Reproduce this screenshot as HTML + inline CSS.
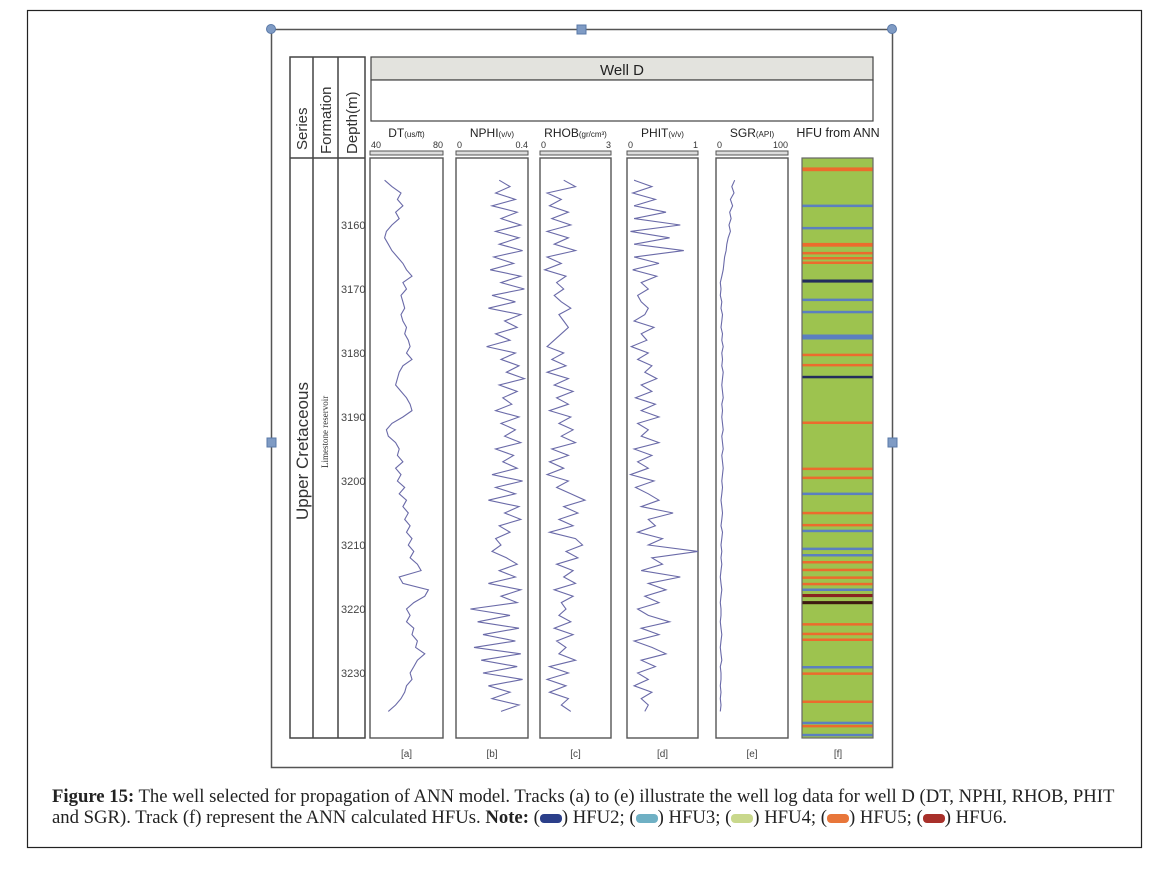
<!DOCTYPE html>
<html><head><meta charset="utf-8"><style>
body{margin:0;background:#fff;width:1174px;height:877px;overflow:hidden;}
svg{position:absolute;left:0;top:0}
.cap{position:absolute;left:52px;top:786px;width:1085px;font-family:"Liberation Serif",serif;font-size:18.7px;line-height:21px;color:#222;white-space:normal}
</style></head><body>
<svg id="fig" width="1174" height="877" font-family="Liberation Sans, sans-serif">
<rect x="27.5" y="10.5" width="1114" height="837" fill="none" stroke="#222" stroke-width="1.2"/>
<rect x="271.5" y="29.5" width="621" height="738" fill="none" stroke="#555" stroke-width="1.5"/>
<g fill="#7f9bc4" stroke="#5a79a8">
<circle cx="271" cy="29" r="4.5"/><circle cx="892" cy="29" r="4.5"/>
<rect x="577" y="25" width="9" height="9"/><rect x="267" y="438" width="9" height="9"/><rect x="888" y="438" width="9" height="9"/>
</g>
<g stroke="#444" stroke-width="1.5" fill="none">
<rect x="290" y="57" width="75" height="681"/>
<line x1="290" y1="158" x2="365" y2="158"/>
<line x1="313" y1="57" x2="313" y2="738"/><line x1="338" y1="57" x2="338" y2="738"/>
</g>
<g font-size="15" fill="#333">
<text transform="translate(307,150) rotate(-90)">Series</text>
<text transform="translate(331,154) rotate(-90)">Formation</text>
<text transform="translate(357,154) rotate(-90)">Depth(m)</text>
<text transform="translate(308,520) rotate(-90)" font-size="17">Upper Cretaceous</text>
<text transform="translate(328,468) rotate(-90)" font-size="9" font-family="Liberation Serif, serif">Limestone reservoir</text>
</g>
<rect x="371" y="57" width="502" height="23" fill="#e3e3de" stroke="#444" stroke-width="1.2"/>
<text x="622" y="75" font-size="15" text-anchor="middle" fill="#222">Well D</text>
<rect x="371" y="80" width="502" height="41" fill="#fff" stroke="#444" stroke-width="1.2"/>
<g id="tracks"></g>
<text x="838" y="137" font-size="12.5" text-anchor="middle" fill="#222">HFU from ANN</text>
<g id="hfu"></g>
</svg>
<div class="cap"><b>Figure 15:</b> The well selected for propagation of ANN model. Tracks (a) to (e) illustrate the well log data for well D (DT, NPHI, RHOB, PHIT and SGR). Track (f) represent the ANN calculated HFUs. <b>Note:</b> (<span style="display:inline-block;width:22px;height:9px;background:#2b3f8a;border-radius:4px"></span>) HFU2; (<span style="display:inline-block;width:22px;height:9px;background:#6fb0c4;border-radius:4px"></span>) HFU3; (<span style="display:inline-block;width:22px;height:9px;background:#c9d88c;border-radius:4px"></span>) HFU4; (<span style="display:inline-block;width:22px;height:9px;background:#e8763a;border-radius:4px"></span>) HFU5; (<span style="display:inline-block;width:22px;height:9px;background:#a8302a;border-radius:4px"></span>) HFU6.</div>
<script>
const depths=[];for(let d=3153;d<=3236;d++)depths.push(d);
const depthTicks=[3160,3170,3180,3190,3200,3210,3220,3230];
const dt=[48,52,57,55,58,54,56,52,49,48,50,52,55,58,60,63,58,60,57,58,59,57,58,60,59,61,62,60,63,58,56,55,54,57,60,62,63,58,52,49,50,54,56,55,58,54,57,55,59,56,60,58,61,59,62,60,63,61,64,62,66,68,56,58,72,70,64,60,62,60,64,63,66,65,70,66,64,62,63,60,59,57,54,50];
const nphi=[.24,.3,.22,.33,.2,.34,.25,.36,.22,.35,.24,.37,.21,.32,.19,.36,.25,.38,.2,.33,.18,.36,.27,.34,.22,.3,.17,.33,.25,.35,.28,.38,.24,.34,.26,.31,.22,.35,.25,.33,.27,.36,.22,.32,.26,.34,.2,.37,.22,.33,.18,.35,.27,.36,.24,.3,.22,.25,.2,.28,.34,.24,.33,.18,.36,.25,.34,.08,.3,.12,.35,.15,.33,.1,.36,.14,.34,.15,.37,.18,.3,.2,.35,.25];
const rhob=[1.0,1.5,0.3,0.9,0.4,1.2,0.5,1.3,0.3,1.2,0.6,1.5,0.3,0.9,0.2,1.1,0.7,1.0,0.6,0.9,1.3,0.8,1.0,1.2,0.9,0.6,0.3,1.0,0.5,1.1,0.3,1.2,0.6,1.4,0.7,1.2,0.4,1.3,0.8,1.4,0.9,1.5,0.5,1.2,0.4,1.0,0.3,1.2,0.7,1.3,1.9,1.0,1.6,0.8,1.4,0.4,1.5,1.8,1.1,1.6,0.7,1.4,1.0,1.5,0.6,1.4,0.9,1.1,0.8,1.3,0.6,1.4,0.7,1.1,0.8,1.5,0.4,1.2,0.3,1.1,0.4,1.2,0.9,1.3];
const phit=[0.1,0.35,0.08,0.4,0.1,0.55,0.1,0.75,0.05,0.6,0.1,0.8,0.1,0.45,0.08,0.42,0.2,0.3,0.15,0.2,0.3,0.25,0.1,0.38,0.2,0.28,0.06,0.3,0.15,0.35,0.25,0.42,0.2,0.35,0.12,0.4,0.2,0.45,0.15,0.3,0.2,0.45,0.1,0.35,0.15,0.3,0.05,0.38,0.12,0.3,0.45,0.2,0.65,0.3,0.4,0.15,0.5,0.3,1.0,0.35,0.5,0.2,0.75,0.3,0.55,0.25,0.45,0.15,0.3,0.6,0.2,0.45,0.1,0.35,0.55,0.2,0.4,0.15,0.3,0.1,0.35,0.2,0.3,0.25];
const sgr=[26,22,25,20,23,19,21,18,20,17,15,14,12,11,10,8,6,7,6,8,7,9,8,7,9,8,10,8,9,8,10,9,8,9,10,8,9,8,9,10,8,9,10,8,9,10,9,8,9,8,7,8,9,8,7,9,8,7,8,7,8,7,6,7,8,7,6,7,7,6,7,8,7,6,7,8,6,7,7,6,7,6,7,6];
const hfuDepth=[3151.3,3157.0,3160.5,3163.1,3164.4,3165.2,3165.9,3168.75,3171.7,3173.6,3177.5,3180.3,3181.9,3183.75,3190.9,3198.1,3199.5,3202.0,3205.0,3206.9,3207.8,3210.6,3211.6,3212.7,3213.9,3215.1,3216.1,3217.0,3217.9,3219.0,3222.4,3223.9,3224.8,3229.1,3230.1,3234.5,3237.8,3238.3,3239.7];
const hfuClass=[5,3,3,5,5,5,5,2,3,3,3,5,5,2,5,5,5,3,5,5,3,3,3,5,5,5,5,3,6,7,5,5,5,3,5,5,3,5,3];
const hfuThick=[1,.6,.6,1,.6,.6,.6,.8,.6,.6,1.3,.6,.6,.6,.6,.6,.6,.6,.6,.6,.6,.6,.6,.6,.6,.6,.6,.6,.8,.8,.6,.6,.6,.6,.6,.6,.6,.6,.6];

const NS='http://www.w3.org/2000/svg';
const yTop=158,yBot=738;
function yOf(d){return 225+(d-3160)*6.4;}
function mk(tag,attrs,parent){const e=document.createElementNS(NS,tag);for(const k in attrs)e.setAttribute(k,attrs[k]);parent.appendChild(e);return e;}
const tracks=document.getElementById('tracks');
depthTicks.forEach(d=>{const t=mk('text',{x:341,y:yOf(d)+4,'font-size':11,fill:'#444'},tracks);t.textContent=d;

});
const defs=[
 {name:'dt',title:'DT',unit:'(us/ft)',x0:370,x1:443,min:40,max:80,minL:'40',maxL:'80',data:dt,lab:'[a]'},
 {name:'nphi',title:'NPHI',unit:'(v/v)',x0:456,x1:528,min:0,max:0.4,minL:'0',maxL:'0.4',data:nphi,lab:'[b]'},
 {name:'rhob',title:'RHOB',unit:'(gr/cm³)',x0:540,x1:611,min:0,max:3,minL:'0',maxL:'3',data:rhob,lab:'[c]'},
 {name:'phit',title:'PHIT',unit:'(v/v)',x0:627,x1:698,min:0,max:1,minL:'0',maxL:'1',data:phit,lab:'[d]'},
 {name:'sgr',title:'SGR',unit:'(API)',x0:716,x1:788,min:0,max:100,minL:'0',maxL:'100',data:sgr,lab:'[e]'}];
defs.forEach(t=>{
 const g=mk('g',{},tracks);
 
 
 const cx=(t.x0+t.x1)/2;
 const ti=mk('text',{x:cx,y:137,'font-size':12,'text-anchor':'middle',fill:'#222'},g);
 ti.innerHTML=t.title+'<tspan font-size="8">'+t.unit+'</tspan>';
 const a=mk('text',{x:t.x0+1,y:148,'font-size':9,fill:'#333'},g);a.textContent=t.minL;
 const b=mk('text',{x:t.x1,y:148,'font-size':9,'text-anchor':'end',fill:'#333'},g);b.textContent=t.maxL;
 mk('rect',{x:t.x0,y:151,width:t.x1-t.x0,height:4,fill:'#ddd',stroke:'#555','stroke-width':1},g);
 mk('rect',{x:t.x0,y:yTop,width:t.x1-t.x0,height:yBot-yTop,fill:'#fff',stroke:'#555','stroke-width':1.4},g);
 const xs=v=>t.x0+(v-t.min)/(t.max-t.min)*(t.x1-t.x0);
 let p='';t.data.forEach((v,i)=>{p+=(i?'L':'M')+xs(v).toFixed(1)+' '+yOf(depths[i]).toFixed(1);});
 const path=mk('path',{d:p,fill:'none',stroke:'#6a6aa8','stroke-width':1.1},g);
 
 
 const l=mk('text',{x:cx,y:757,'font-size':10,'text-anchor':'middle',fill:'#444'},g);l.textContent=t.lab;
});
const hg=document.getElementById('hfu');
const colors={2:'#232c5c',3:'#5b7fc0',5:'#ec6b2d',6:'#8a2520',7:'#3e1a10'};
const bg=mk('rect',{x:802,y:yTop,width:71,height:yBot-yTop,fill:'#9dc34f',stroke:'#666','stroke-width':1.2},hg);


hfuDepth.forEach((d,i)=>{const h=Math.max(2.5,hfuThick[i]*6.4*0.6);
 const r=mk('rect',{x:802.5,y:(yOf(d)-h/2).toFixed(1),width:70,height:h.toFixed(1),fill:colors[hfuClass[i]]},hg);
 
 });
const fl=mk('text',{x:838,y:757,'font-size':10,'text-anchor':'middle',fill:'#444'},hg);fl.textContent='[f]';
</script>
</body></html>
